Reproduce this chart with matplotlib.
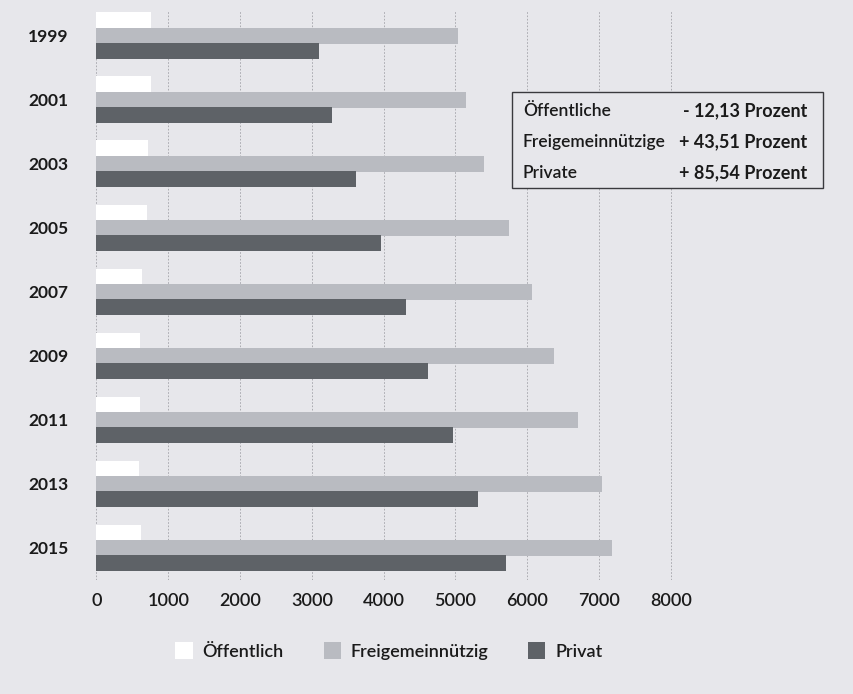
import matplotlib
matplotlib.use("Agg")
import matplotlib.pyplot as plt
import numpy as np

plt.rcParams['font.family'] = ['Lato', 'DejaVu Sans']

# Data
years = ['1999', '2001', '2003', '2005', '2007', '2009', '2011', '2013', '2015']
oeffentlich = [755, 755, 720, 700, 630, 610, 600, 590, 620]
freigemeinnuetzig = [5040, 5140, 5400, 5750, 6060, 6370, 6700, 7040, 7180]
privat = [3100, 3285, 3620, 3960, 4310, 4620, 4970, 5310, 5700]
xticks = [0, 1000, 2000, 3000, 4000, 5000, 6000, 7000, 8000]

box_labels = ['Öffentliche', 'Freigemeinnützige', 'Private']
box_values = ['- 12,13 Prozent', '+ 43,51 Prozent', '+ 85,54 Prozent']

bg = '#e7e7eb'
c_oeff = '#ffffff'
c_frei = '#b9bbc1'
c_priv = '#5e6267'

fig = plt.figure(figsize=(8.54, 6.94), dpi=100)
fig.patch.set_facecolor(bg)
ax = fig.add_axes([96.5 / 854, 1 - 580 / 694, 1 - 96.5 / 854, 570 / 694])
ax.set_facecolor(bg)

y = np.arange(len(years))
h = 0.25
off = 0.242
ax.barh(y - off, oeffentlich, height=h, color=c_oeff, label='Öffentlich', zorder=3)
ax.barh(y, freigemeinnuetzig, height=h, color=c_frei, label='Freigemeinnützig', zorder=3)
ax.barh(y + off, privat, height=h, color=c_priv, label='Privat', zorder=3)

xmax = (854 - 96.5) / 71.8 * 1000
ax.set_xlim(0, xmax)
ax.set_ylim(8.5, -0.406)

for xv in xticks:
    ax.axvline(xv, color='#a2a2a8', lw=0.6, ls=(0, (2, 2)), zorder=1)

ax.set_yticks(y)
ax.set_yticklabels(years, fontsize=12.5, fontweight='bold', color='#1a1a1a')
ax.set_xticks(xticks)
ax.set_xticklabels([str(v) for v in xticks], fontsize=13, fontweight='semibold', color='#1a1a1a')
ax.tick_params(axis='y', length=0, pad=20)
ax.tick_params(axis='x', length=0, pad=9)
for s in ax.spines.values():
    s.set_visible(False)

# Change box
box = plt.Rectangle((512 / 854, 1 - 188 / 694), (823 - 512) / 854, (188 - 92) / 694,
                    transform=fig.transFigure, facecolor=bg, edgecolor='#3a3a3e', lw=1, zorder=5)
fig.patches.append(box)
rows_y = [111, 142, 173]
for lab, val, ry in zip(box_labels, box_values, rows_y):
    fig.text(523 / 854, 1 - ry / 694, lab, fontsize=12.5, fontweight='semibold',
             va='center', ha='left', color='#1a1a1a', zorder=6)
    fig.text(807 / 854, 1 - ry / 694, val, fontsize=13, fontweight='bold',
             va='center', ha='right', color='#1a1a1a', zorder=6)

leg = fig.legend(loc='center', bbox_to_anchor=(389 / 854, 1 - 651 / 694), ncol=3,
                 frameon=False, fontsize=13, handlelength=0.95, handleheight=1.0,
                 columnspacing=2.2, handletextpad=0.55)
for t in leg.get_texts():
    t.set_fontweight('semibold')
    t.set_color('#1a1a1a')

fig.savefig('out.png', dpi=100, facecolor=bg)
